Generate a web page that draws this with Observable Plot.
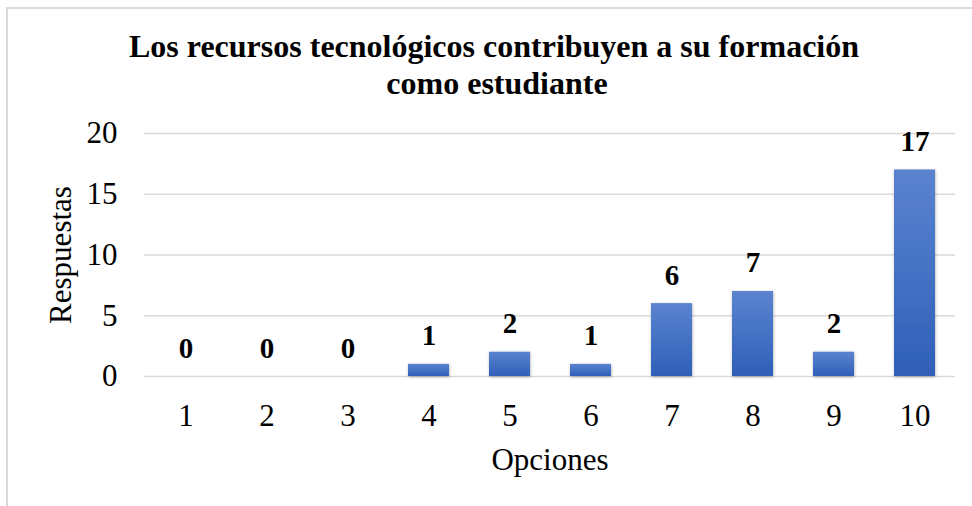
<!DOCTYPE html>
<html>
<head>
<meta charset="utf-8">
<script src="https://cdn.jsdelivr.net/npm/d3@7"></script>
<script src="https://cdn.jsdelivr.net/npm/@observablehq/plot@0.6"></script>
<style>
  html, body { margin: 0; padding: 0; background: #fff; }
  #wrap { position: relative; width: 972px; height: 506px; overflow: hidden; }
  #frame { position: absolute; left: 6px; top: 7px; width: 1000px; height: 600px;
           border-left: 2px solid #d9d9d9; border-top: 2px solid #d9d9d9; box-sizing: border-box; }
  #chart { position: absolute; left: 0; top: 0; }
</style>
</head>
<body>
<div id="wrap"><div id="frame"></div><div id="chart"></div></div>
<script>
const categories = ["1", "2", "3", "4", "5", "6", "7", "8", "9", "10"];
const values = [0, 0, 0, 1, 2, 1, 6, 7, 2, 17];
const yTicks = [0, 5, 10, 15, 20];
const titleLines = ["Los recursos tecnológicos contribuyen a su formación", "como estudiante"];
const xLabel = "Opciones";
const yLabel = "Respuestas";

const data = categories.map((c, i) => ({cat: c, v: values[i]}));
const serif = "'Liberation Serif', 'Times New Roman', serif";

const chart = Plot.plot({
  width: 972,
  height: 506,
  marginLeft: 144,
  marginRight: 17,
  marginTop: 133,
  marginBottom: 130,
  style: {fontFamily: serif, fontSize: "31px", background: "transparent", color: "#000", overflow: "visible"},
  x: {domain: categories, paddingInner: 0.5, paddingOuter: 0.25},
  y: {domain: [0, 20]},
  marks: [
    Plot.gridY(yTicks, {stroke: "#d9d9d9", strokeWidth: 1.5, strokeOpacity: 1}),
    Plot.axisY(yTicks, {tickSize: 0, tickPadding: 27, fontSize: 31, label: null}),
    Plot.axisX({tickSize: 0, tickPadding: 27, fontSize: 31, label: null}),
    Plot.barY(data, {x: "cat", y: "v", fill: "url(#barGrad)"}),
    Plot.text(data, {x: "cat", y: "v", text: d => String(d.v), dy: -19, lineAnchor: "bottom", fontWeight: "bold", fontSize: 29, fontFamily: serif, fill: "#000"}),
    Plot.text([xLabel], {frameAnchor: "bottom", dy: 84, lineAnchor: "middle", fontSize: 31, fontFamily: serif, fill: "#000"}),
    Plot.text([yLabel], {frameAnchor: "left", textAnchor: "middle", rotate: -90, dx: -83.6, lineAnchor: "middle", fontSize: 31, fontFamily: serif, fill: "#000"}),
    Plot.text([titleLines[0]], {frameAnchor: "top", dx: -56, dy: -77, lineAnchor: "bottom", fontSize: 32, fontWeight: "bold", fontFamily: serif, fill: "#000"}),
    Plot.text([titleLines[1]], {frameAnchor: "top", dx: -53, dy: -40, lineAnchor: "bottom", fontSize: 32, fontWeight: "bold", fontFamily: serif, fill: "#000"})
  ]
});

const svg = d3.select(chart);
const defs = svg.insert("defs", ":first-child");
const grad = defs.append("linearGradient").attr("id", "barGrad")
  .attr("x1", 0).attr("y1", 0).attr("x2", 0).attr("y2", 1);
grad.append("stop").attr("offset", "0%").attr("stop-color", "#5b83cf");
grad.append("stop").attr("offset", "50%").attr("stop-color", "#4472c4");
grad.append("stop").attr("offset", "100%").attr("stop-color", "#2f5fb9");
const filt = defs.append("filter").attr("id", "barShadow")
  .attr("x", "-30%").attr("y", "-30%").attr("width", "160%").attr("height", "160%");
filt.append("feDropShadow").attr("dx", 0.5).attr("dy", 1).attr("stdDeviation", 1.5)
  .attr("flood-color", "#000").attr("flood-opacity", 0.3);
svg.selectAll("g[aria-label='bar'] rect").attr("filter", "url(#barShadow)");

document.getElementById("chart").appendChild(chart);
</script>
</body>
</html>
